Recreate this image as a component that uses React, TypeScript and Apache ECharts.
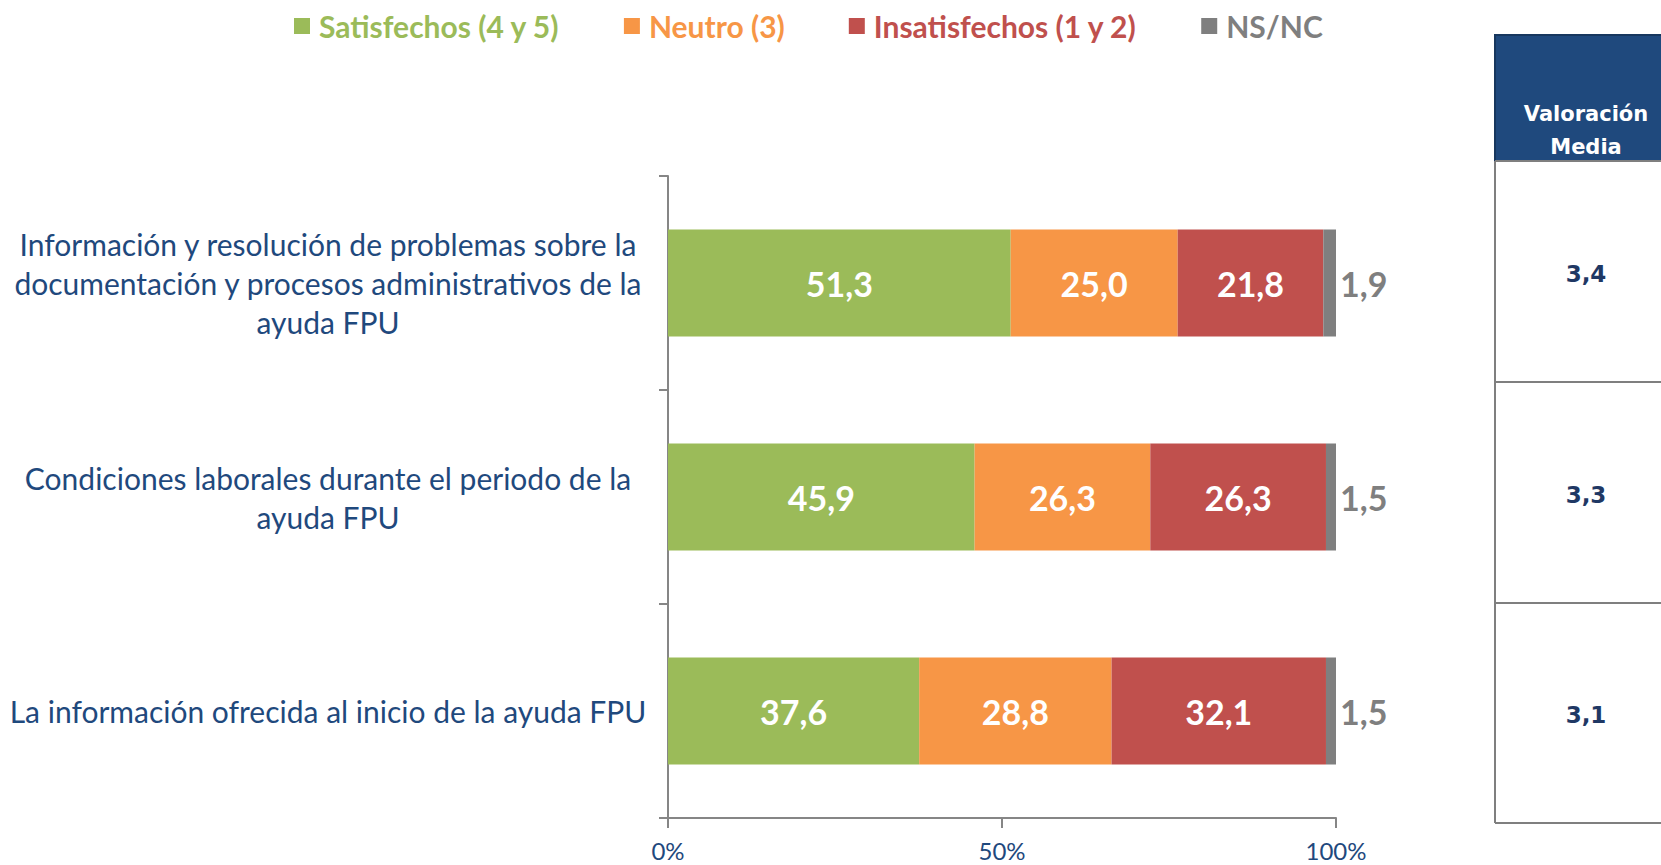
import React, { useEffect, useRef } from "react";
import * as echarts from "echarts";

const categories = [
  "Información y resolución de problemas sobre la\ndocumentación y procesos administrativos de la\nayuda FPU",
  "Condiciones laborales durante el periodo de la\nayuda FPU",
  "La información ofrecida al inicio de la ayuda FPU",
];
const seriesNames = ["Satisfechos (4 y 5)", "Neutro (3)", "Insatisfechos (1 y 2)", "NS/NC"];
const satisfechos = [51.3, 45.9, 37.6];
const neutro = [25.0, 26.3, 28.8];
const insatisfechos = [21.8, 26.3, 32.1];
const nsnc = [1.9, 1.5, 1.5];
const valoracionMedia = [3.4, 3.3, 3.1];
const xTicks = [0, 50, 100];

const colors = ["#9BBB59", "#F79646", "#C0504D", "#7F7F7F"];
const textBlue = "#1F497D";
const FONT = "Lato";

function fmt(v: number) {
  return v.toFixed(1).replace(".", ",");
}

export default function App() {
  const ref = useRef<HTMLDivElement>(null);
  useEffect(() => {
    if (!ref.current) return;
    const chart = echarts.init(ref.current, undefined, { renderer: "svg" });
    const data = [satisfechos, neutro, insatisfechos, nsnc];

    const series = data.map((vals, i) => ({
      name: seriesNames[i],
      type: "bar",
      stack: "total",
      barWidth: "50%",
      data: vals,
      itemStyle: { color: colors[i] },
      label: {
        show: true,
        position: i === 3 ? "right" : "inside",
        distance: 4,
        formatter: (p: any) => fmt(p.value),
        color: i === 3 ? "#7F7F7F" : "#FFFFFF",
        fontFamily: FONT,
        fontWeight: "bold",
        fontSize: 34,
      },
    }));

    // Table on the right
    const tLeft = 1495;
    const tRight = 1700;
    const headerTop = 35;
    const rowLines = [161, 382, 603, 823];
    const tableGraphics: any[] = [
      {
        type: "rect",
        shape: { x: tLeft, y: headerTop, width: tRight - tLeft, height: rowLines[0] - headerTop },
        style: { fill: "#1F497D", stroke: "#17375E", lineWidth: 2 },
      },
      {
        type: "text",
        x: 1586,
        y: 130,
        style: {
          text: "Valoración\nMedia",
          fill: "#FFFFFF",
          font: "bold 21px 'DejaVu Sans'",
          align: "center",
          verticalAlign: "middle",
          lineHeight: 33,
        },
      },
      {
        type: "line",
        shape: { x1: tLeft, y1: rowLines[0], x2: tLeft, y2: rowLines[3] },
        style: { stroke: "#7F7F7F", lineWidth: 2 },
      },
    ];
    rowLines.forEach((y) => {
      tableGraphics.push({
        type: "line",
        shape: { x1: tLeft, y1: y, x2: tRight, y2: y },
        style: { stroke: "#7F7F7F", lineWidth: 2 },
      });
    });
    valoracionMedia.forEach((v, i) => {
      tableGraphics.push({
        type: "text",
        x: 1586,
        y: (rowLines[i] + rowLines[i + 1]) / 2 + 2,
        style: {
          text: fmt(v),
          fill: "#1F3864",
          font: "bold 23px 'DejaVu Sans'",
          align: "center",
          verticalAlign: "middle",
        },
      });
    });

    chart.setOption({
      animation: false,
      backgroundColor: "#FFFFFF",
      legend: {
        left: 289,
        top: 6,
        itemWidth: 16,
        itemHeight: 16,
        itemGap: 64,
        icon: "rect",
        data: seriesNames.map((n, i) => ({
          name: n,
          textStyle: { color: colors[i] },
        })),
        textStyle: { fontFamily: FONT, fontWeight: "bold", fontSize: 30, padding: [0, 0, 0, 4] },
      },
      grid: { left: 668, right: 325, top: 176, bottom: 47, containLabel: false },
      xAxis: {
        type: "value",
        min: xTicks[0],
        max: xTicks[xTicks.length - 1],
        interval: 50,
        axisLine: { show: true, lineStyle: { color: "#868686", width: 2 } },
        axisTick: { show: true, length: 10, lineStyle: { color: "#868686", width: 2 } },
        splitLine: { show: false },
        axisLabel: {
          formatter: "{value}%",
          color: textBlue,
          fontFamily: FONT,
          fontSize: 24,
          lineHeight: 24,
          margin: 20,
        },
      },
      yAxis: {
        type: "category",
        inverse: true,
        data: categories,
        axisLine: { show: true, lineStyle: { color: "#868686", width: 2 } },
        axisTick: { show: true, length: 9, lineStyle: { color: "#868686", width: 2 } },
        axisLabel: {
          color: textBlue,
          fontFamily: FONT,
          fontSize: 30,
          lineHeight: 39,
          align: "center",
          margin: 340,
        },
      },
      series,
      graphic: tableGraphics,
    });
    return () => chart.dispose();
  }, []);
  return (
    <div
      ref={ref}
      style={{ position: "absolute", left: 0, top: 0, width: 1661, height: 865 }}
    />
  );
}
